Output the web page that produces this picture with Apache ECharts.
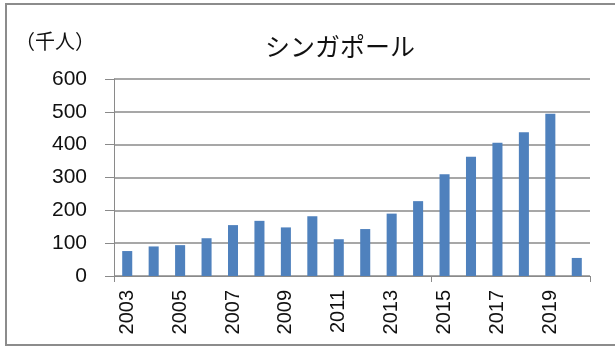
<!DOCTYPE html>
<html>
<head>
<meta charset="utf-8">
<script src="https://cdn.jsdelivr.net/npm/echarts@6/dist/echarts.min.js"></script>
<style>
  html, body { margin: 0; padding: 0; background: #fff; }
  #chart { width: 615px; height: 347px; }
</style>
</head>
<body>
<div id="chart"></div>
<script>
// Visitors from Singapore, thousands of people, 2003–2020
const years = ['2003','2004','2005','2006','2007','2008','2009','2010','2011',
               '2012','2013','2014','2015','2016','2017','2018','2019','2020'];
const visitors = [76, 90, 94, 115, 155, 168, 148, 182, 112,
                  143, 190, 228, 310, 363, 406, 438, 494, 55];
const yTicks = { min: 0, max: 600, interval: 100 };

const chart = echarts.init(document.getElementById('chart'));
const numFont = '"Liberation Sans", Arial, sans-serif';
const jpFont = '"Noto Sans CJK JP", sans-serif';

chart.setOption({
  animation: false,
  backgroundColor: '#fff',
  title: [
    {
      text: 'シンガポール',
      left: 335, top: 29, textAlign: 'center',
      textStyle: { fontFamily: jpFont, fontSize: 25, fontWeight: 'normal', color: '#111' }
    },
    {
      text: '（千人）',
      left: 10, top: 26,
      textStyle: { fontFamily: jpFont, fontSize: 20, fontWeight: 'normal', color: '#111' }
    }
  ],
  graphic: [{
    type: 'rect',
    shape: { x: 6, y: 4, width: 612, height: 341 },
    style: { fill: 'none', stroke: '#8c8c8c', lineWidth: 2 },
    silent: true
  }],
  grid: { left: 114, right: 25, top: 79, bottom: 71, containLabel: false },
  xAxis: {
    type: 'category',
    data: years,
    boundaryGap: true,
    axisLine: { lineStyle: { color: '#8a8a8a', width: 1 } },
    axisTick: {
      show: true, length: 6, inside: false,
      interval: (i) => i % 12 === 0,
      lineStyle: { color: '#8a8a8a' }
    },
    axisLabel: {
      interval: 1, rotate: 90, margin: 14,
      fontFamily: numFont, fontSize: 20, color: '#111'
    }
  },
  yAxis: {
    type: 'value',
    min: yTicks.min, max: yTicks.max, interval: yTicks.interval,
    axisLine: { show: true, lineStyle: { color: '#8a8a8a' } },
    axisTick: { show: true, length: 9, inside: false, lineStyle: { color: '#8a8a8a' } },
    axisLabel: { margin: 27, fontFamily: numFont, fontSize: 21, color: '#111' },
    splitLine: { show: true, lineStyle: { color: '#8a8a8a', width: 1.5 } }
  },
  series: [{
    type: 'bar',
    data: visitors,
    barWidth: '38%',
    itemStyle: { color: '#4F81BD' }
  }]
});
</script>
</body>
</html>
